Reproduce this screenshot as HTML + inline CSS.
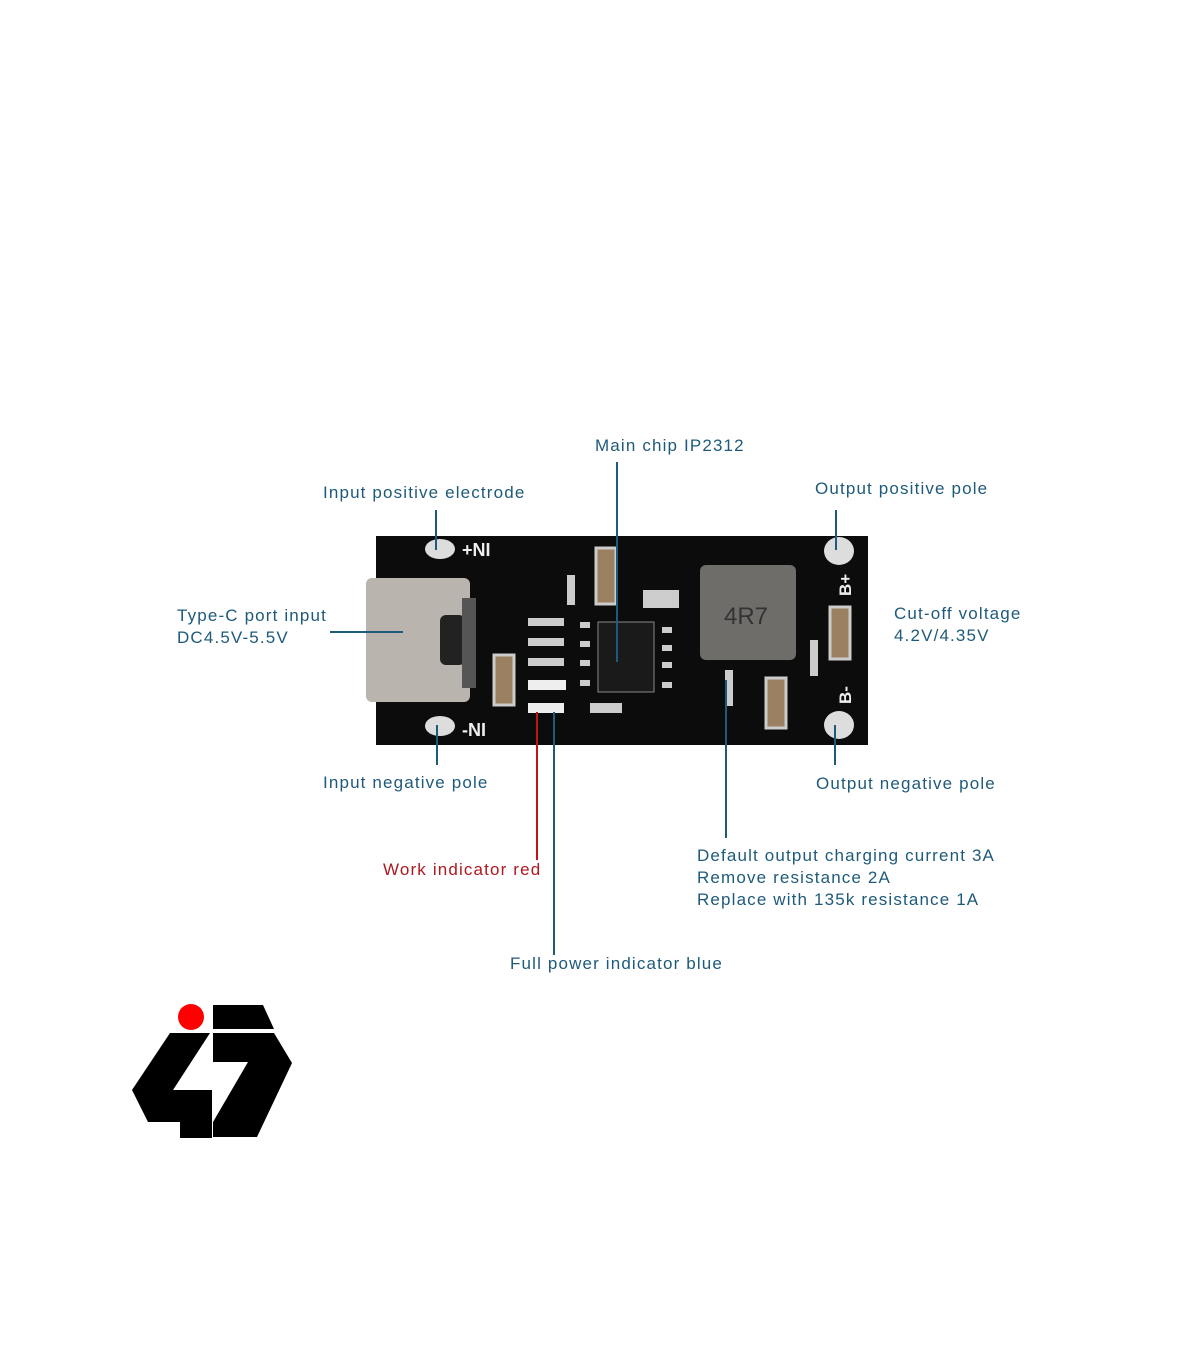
<!DOCTYPE html>
<html><head><meta charset="utf-8"><style>
html,body{margin:0;padding:0;background:#fff}
body{width:1200px;height:1372px;position:relative;overflow:hidden;font-family:"Liberation Sans","DejaVu Sans",sans-serif}
.t{position:absolute;color:#1e5a7a;font-size:17px;line-height:22px;white-space:nowrap;letter-spacing:1.15px}
</style></head><body>
<svg width="1200" height="1372" style="position:absolute;left:0;top:0">
<rect x="376" y="536" width="492" height="209" fill="#0c0c0c"/>
<rect x="366" y="578" width="104" height="124" rx="6" fill="#b9b4ad"/>
<rect x="440" y="615" width="25" height="50" rx="6" fill="#222"/>
<rect x="462" y="598" width="14" height="90" fill="#555"/>
<ellipse cx="440" cy="549" rx="15" ry="10" fill="#ddd"/>
<ellipse cx="440" cy="726" rx="15" ry="10" fill="#ddd"/>
<ellipse cx="839" cy="551" rx="15" ry="14" fill="#ddd"/>
<ellipse cx="839" cy="725" rx="15" ry="14" fill="#ddd"/>
<text x="462" y="556" fill="#eee" font-family="Liberation Sans" font-weight="bold" font-size="18">+NI</text>
<text x="462" y="736" fill="#eee" font-family="Liberation Sans" font-weight="bold" font-size="18">-NI</text>
<text x="851" y="596" fill="#eee" font-family="Liberation Sans" font-weight="bold" font-size="17" transform="rotate(-90 851 596)">B+</text>
<text x="851" y="704" fill="#eee" font-family="Liberation Sans" font-weight="bold" font-size="17" transform="rotate(-90 851 704)">B-</text>
<rect x="700" y="565" width="96" height="95" rx="6" fill="#6f6d69"/>
<text x="724" y="624" fill="#333" font-size="24" font-family="Liberation Sans">4R7</text>
<rect x="598" y="622" width="56" height="70" fill="#1a1a1a" stroke="#888" stroke-width="1"/>
<rect x="596" y="548" width="20" height="56" fill="#9a8060" stroke="#ccc" stroke-width="3"/>
<rect x="494" y="655" width="20" height="50" fill="#9a8060" stroke="#ccc" stroke-width="3"/>
<rect x="766" y="678" width="20" height="50" fill="#9a8060" stroke="#ccc" stroke-width="3"/>
<rect x="830" y="607" width="20" height="52" fill="#9a8060" stroke="#ccc" stroke-width="3"/>
<rect x="643" y="590" width="36" height="18" fill="#ccc"/>
<g fill="#ccc">
<rect x="528" y="618" width="36" height="8"/><rect x="528" y="638" width="36" height="8"/><rect x="528" y="658" width="36" height="8"/>
<rect x="528" y="680" width="38" height="10" fill="#eee"/><rect x="528" y="703" width="36" height="10" fill="#eee"/>
<rect x="580" y="622" width="10" height="6"/><rect x="580" y="641" width="10" height="6"/><rect x="580" y="660" width="10" height="6"/><rect x="580" y="680" width="10" height="6"/>
<rect x="662" y="627" width="10" height="6"/><rect x="662" y="645" width="10" height="6"/><rect x="662" y="662" width="10" height="6"/><rect x="662" y="682" width="10" height="6"/>
<rect x="567" y="575" width="8" height="30"/><rect x="725" y="670" width="8" height="36"/><rect x="810" y="640" width="8" height="36"/>
<rect x="590" y="703" width="32" height="10"/>
</g>
<g stroke="#1e5a7a" stroke-width="2">
<line x1="436" y1="510" x2="436" y2="550"/>
<line x1="617" y1="462" x2="617" y2="662"/>
<line x1="836" y1="510" x2="836" y2="550"/>
<line x1="330" y1="632" x2="403" y2="632"/>
<line x1="437" y1="725" x2="437" y2="765"/>
<line x1="835" y1="725" x2="835" y2="765"/>
<line x1="554" y1="712" x2="554" y2="955"/>
<line x1="726" y1="680" x2="726" y2="838"/>
</g>
<line x1="537" y1="712" x2="537" y2="860" stroke="#c0141c" stroke-width="2"/>
<circle cx="191" cy="1017" r="13" fill="#f00"/>
<polygon points="213,1005 263,1005 274,1029 213,1029" fill="#000"/>
<polygon points="170,1033 210,1033 173,1090 212,1090 212,1138 180,1138 180,1122 148,1122 132,1090" fill="#000"/>
<polygon points="213,1033 274,1033 292,1063 257,1137 213,1137 213,1122 248,1062 213,1062" fill="#000"/>
</svg>
<div class="t" style="left:595px;top:435px">Main chip IP2312</div>
<div class="t" style="left:323px;top:482px">Input positive electrode</div>
<div class="t" style="left:815px;top:478px">Output positive pole</div>
<div class="t" style="left:177px;top:605px">Type-C port input<br>DC4.5V-5.5V</div>
<div class="t" style="left:894px;top:603px">Cut-off voltage<br>4.2V/4.35V</div>
<div class="t" style="left:323px;top:772px">Input negative pole</div>
<div class="t" style="left:816px;top:773px">Output negative pole</div>
<div class="t" style="left:383px;top:859px;color:#b01820">Work indicator red</div>
<div class="t" style="left:697px;top:845px">Default output charging current 3A<br>Remove resistance 2A<br>Replace with 135k resistance 1A</div>
<div class="t" style="left:510px;top:953px">Full power indicator blue</div>
</body></html>
